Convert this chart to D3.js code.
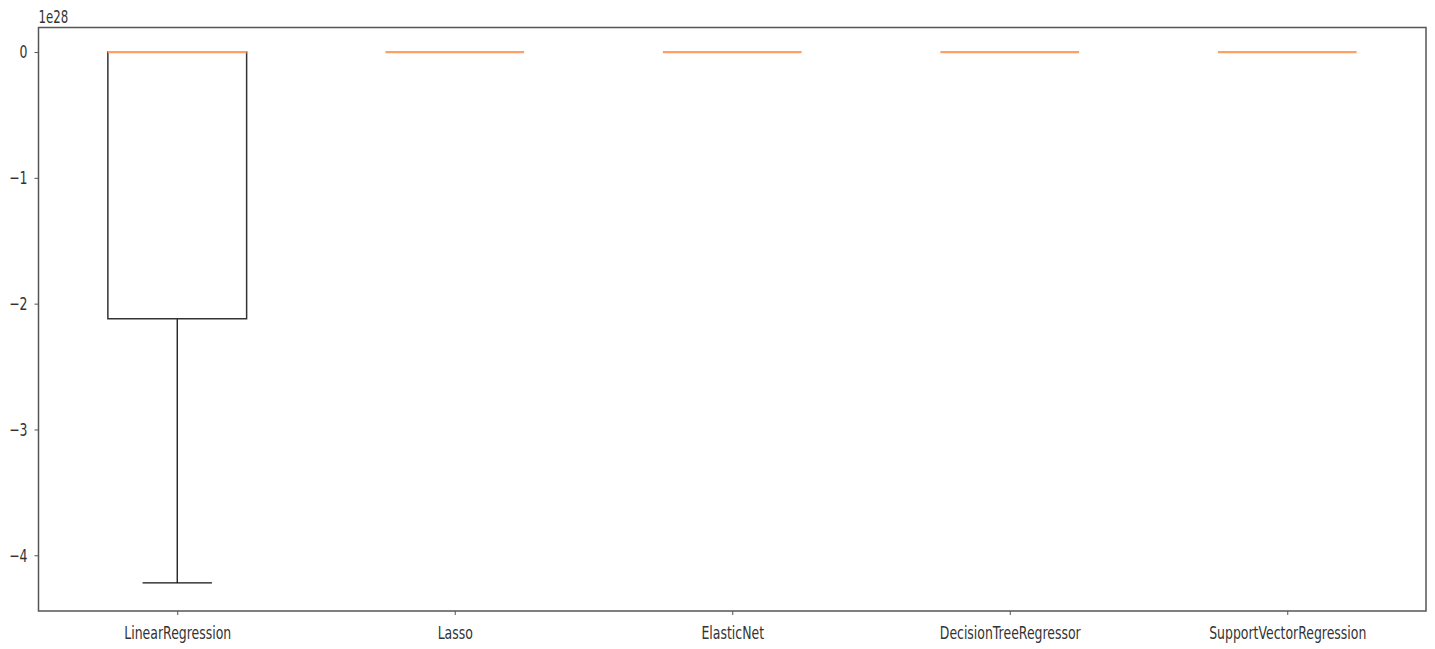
<!DOCTYPE html>
<html>
<head>
<meta charset="utf-8">
<script src="https://cdn.jsdelivr.net/npm/d3@7"></script>
<style>
  body { margin: 0; background: #fff; }
  text { font-family: "DejaVu Sans", sans-serif; fill: #333; }
</style>
</head>
<body>
<div class="chart"></div>
<script>
// values in units of 1e28
const categories = ["LinearRegression", "Lasso", "ElasticNet", "DecisionTreeRegressor", "SupportVectorRegression"];
const whiskerLow = [-4.22, 0, 0, 0, 0];
const q1 = [-2.12, 0, 0, 0, 0];
const median = [0, 0, 0, 0, 0];
const q3 = [0, 0, 0, 0, 0];
const whiskerHigh = [0, 0, 0, 0, 0];
const yTicks = [0, -1, -2, -3, -4];

const width = 1435, height = 649;
const margin = { top: 27.5, right: 9, bottom: 38, left: 38.5 };

const svg = d3.select(".chart").append("svg")
    .attr("width", width)
    .attr("height", height);

// the picture is squeezed sideways: measure a label and derive the squeeze
const probe = svg.append("text").style("font-size", "18px").text(categories[0]);
const sx = 107 / probe.node().getComputedTextLength();
probe.remove();

const x = d3.scalePoint()
    .domain(categories)
    .range([margin.left, width - margin.right])
    .padding(0.5);

const step = x.step();

const y = d3.scaleLinear()
    .domain([-4.443, 0.195])
    .range([height - margin.bottom, margin.top]);

const boxes = categories.map(function (c, i) {
    return { c: c, lo: whiskerLow[i], q1: q1[i], med: median[i], q3: q3[i], hi: whiskerHigh[i] };
});

const g = svg.selectAll(".box")
    .data(boxes)
    .enter().append("g")
    .attr("class", "box");

const bw = step * 0.5, cw = step * 0.25;
const ink = "#111";

// whiskers
g.append("line")
    .attr("x1", d => x(d.c)).attr("x2", d => x(d.c))
    .attr("y1", d => y(d.q1)).attr("y2", d => y(d.lo))
    .attr("stroke", ink).attr("stroke-width", 1.3);
g.append("line")
    .attr("x1", d => x(d.c)).attr("x2", d => x(d.c))
    .attr("y1", d => y(d.q3)).attr("y2", d => y(d.hi))
    .attr("stroke", ink).attr("stroke-width", 1.3);

// caps
g.append("line")
    .attr("x1", d => x(d.c) - cw / 2).attr("x2", d => x(d.c) + cw / 2)
    .attr("y1", d => y(d.lo)).attr("y2", d => y(d.lo))
    .attr("stroke", ink).attr("stroke-width", 1.3);
g.append("line")
    .attr("x1", d => x(d.c) - cw / 2).attr("x2", d => x(d.c) + cw / 2)
    .attr("y1", d => y(d.hi)).attr("y2", d => y(d.hi))
    .attr("stroke", ink).attr("stroke-width", 1.3);

// box
g.append("rect")
    .attr("x", d => x(d.c) - bw / 2)
    .attr("width", bw)
    .attr("y", d => y(d.q3))
    .attr("height", d => y(d.q1) - y(d.q3))
    .attr("fill", "none")
    .attr("stroke", "#333").attr("stroke-width", 1.5);

// medians
g.append("line")
    .attr("x1", d => x(d.c) - bw / 2).attr("x2", d => x(d.c) + bw / 2)
    .attr("y1", d => y(d.med)).attr("y2", d => y(d.med))
    .attr("stroke", "#ffa060").attr("stroke-width", 2.2);

// axes
const yAxis = d3.axisLeft(y)
    .tickValues(yTicks)
    .tickSize(4)
    .tickFormat(d => d === 0 ? "0" : "\u2212" + Math.abs(d));

const xAxis = d3.axisBottom(x).tickSize(4);

const ya = svg.append("g")
    .attr("transform", "translate(" + margin.left + ",0)")
    .call(yAxis);
ya.select(".domain").remove();
ya.selectAll("text")
    .style("font-size", "18px")
    .attr("x", -11 / sx)
    .attr("transform", "scale(" + sx + ",1)");
ya.selectAll("line").attr("stroke", "#555");

const xa = svg.append("g")
    .attr("transform", "translate(0," + (height - margin.bottom) + ")")
    .call(xAxis);
xa.select(".domain").remove();
xa.selectAll("text")
    .style("font-size", "18px")
    .attr("y", 28.5).attr("dy", null)
    .attr("transform", "scale(" + sx + ",1)");
xa.selectAll(".tick").each(function () {
    const t = d3.select(this);
    const tx = +t.attr("transform").match(/translate\(([-\d.]+)/)[1];
    t.select("text").attr("x", 0).attr("transform", "scale(" + sx + ",1)");
});
xa.selectAll("line").attr("stroke", "#555");

// frame
svg.append("rect")
    .attr("x", margin.left).attr("y", margin.top)
    .attr("width", width - margin.left - margin.right)
    .attr("height", height - margin.top - margin.bottom)
    .attr("fill", "none")
    .attr("stroke", "#555").attr("stroke-width", 1.5);

// offset text
svg.append("text")
    .attr("x", margin.left / sx).attr("y", 23.5)
    .attr("transform", "scale(" + sx + ",1)")
    .style("font-size", "17px")
    .text("1e28");
</script>
</body>
</html>
